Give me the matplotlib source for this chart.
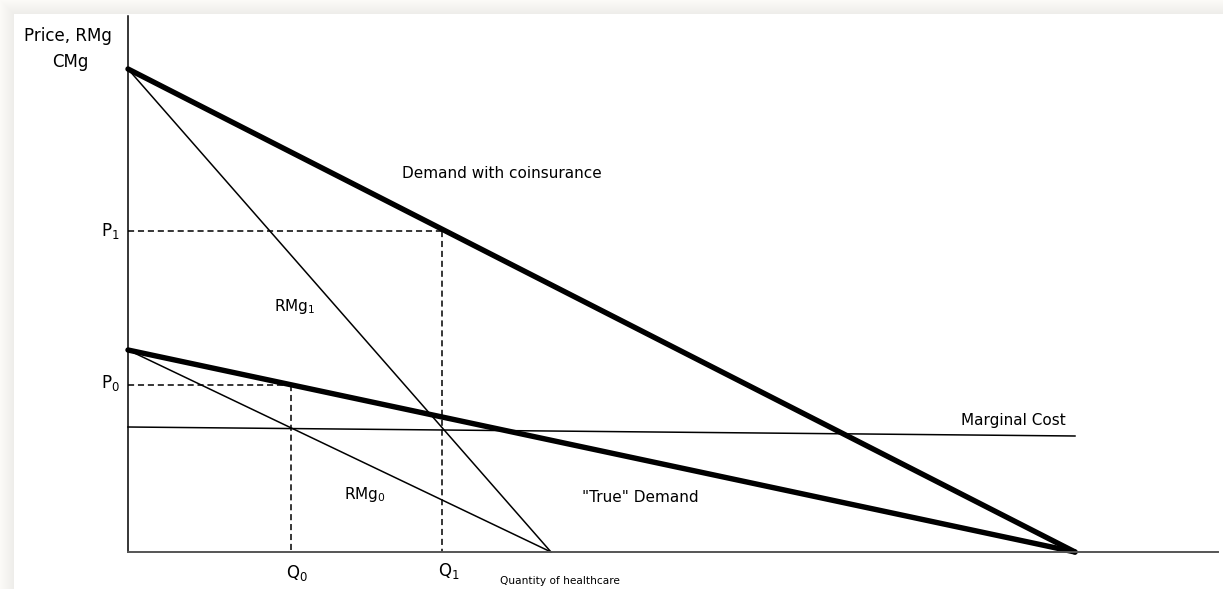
import matplotlib
matplotlib.use("Agg")
import matplotlib.pyplot as plt
from matplotlib.patches import Rectangle

# curves (quantity, price)
demand_coins_x = [0, 94.7]
demand_coins_y = [48.3, 0]
demand_true_x = [0, 94.7]
demand_true_y = [20.2, 0]
rmg1_x = [0, 42.3]
rmg1_y = [48.3, 0]
rmg0_x = [0, 42.3]
rmg0_y = [20.2, 0]
mc_x = [0, 94.7]
mc_y = [12.5, 11.6]

p1, q1 = 32.1, 31.4
p0, q0 = 16.7, 16.3

W, H = 1223, 589
fig = plt.figure(figsize=(W / 100, H / 100), dpi=100)
fig.patch.set_facecolor("white")
# soft frame shadow on top and left edges, darkest next to the page
for i in range(14):
    t = i / 13
    g = 0.985 - 0.05 * t
    col = (g, g - 0.004, g - 0.018)
    fig.patches.append(Rectangle((i / W, 0), 1 / W, 1 - i / H, transform=fig.transFigure,
                                 facecolor=col, edgecolor="none", zorder=0))
    fig.patches.append(Rectangle((i / W, 1 - (i + 1) / H), 1, 1 / H,
                                 transform=fig.transFigure,
                                 facecolor=col, edgecolor="none", zorder=0))

ax = fig.add_axes([128 / W, (H - 552) / H, (1218 - 128) / W, (552 - 16) / H])
ax.set_zorder(2)
ax.set_xlim(0, 109)
ax.set_ylim(0, 53.6)
ax.patch.set_alpha(0)
for s in ["top", "right"]:
    ax.spines[s].set_visible(False)
ax.spines["left"].set_linewidth(1.1)
ax.spines["bottom"].set_linewidth(1.4)
ax.spines["bottom"].set_color("#555555")
ax.set_xticks([])
ax.set_yticks([])

thick = dict(color="black", lw=3.9, solid_capstyle="round", clip_on=False)
thin = dict(color="black", lw=1.1, clip_on=False)
dash = dict(color="black", lw=1.1, ls=(0, (4, 2.5)), clip_on=False)

ax.plot(demand_coins_x, demand_coins_y, **thick)
ax.plot(demand_true_x, demand_true_y, **thick)
ax.plot(rmg1_x, rmg1_y, **thin)
ax.plot(rmg0_x, rmg0_y, **thin)
ax.plot(mc_x, mc_y, **thin)

ax.plot([0, q1], [p1, p1], **dash)
ax.plot([q1, q1], [p1, 0], **dash)
ax.plot([0, q0], [p0, p0], **dash)
ax.plot([q0, q0], [p0, 0], **dash)

fs = 11
ax.text(-6.0, 51.6, "Price, RMg", ha="center", va="center", fontsize=fs + 1)
ax.text(-5.8, 49.0, "CMg", ha="center", va="center", fontsize=fs + 1)
ax.text(-0.8, p1, r"$\mathregular{P_1}$", ha="right", va="center", fontsize=fs + 1)
ax.text(-0.8, p0 + 0.2, r"$\mathregular{P_0}$", ha="right", va="center", fontsize=fs + 1)
ax.text(q0 + 0.6, -2.1, r"$\mathregular{Q_0}$", ha="center", va="center", fontsize=fs + 1)
ax.text(q1 + 0.7, -1.9, r"$\mathregular{Q_1}$", ha="center", va="center", fontsize=fs + 1)
ax.text(43.2, -2.9, "Quantity of healthcare", ha="center", va="center", fontsize=7.6)
ax.text(37.4, 37.8, "Demand with coinsurance", ha="center", va="center", fontsize=fs)
ax.text(16.7, 24.6, r"$\mathregular{RMg_1}$", ha="center", va="center", fontsize=fs)
ax.text(23.7, 5.8, r"$\mathregular{RMg_0}$", ha="center", va="center", fontsize=fs)
ax.text(88.5, 13.2, "Marginal Cost", ha="center", va="center", fontsize=fs)
ax.text(51.2, 5.4, '"True" Demand', ha="center", va="center", fontsize=fs)

fig.savefig("out.png", dpi=100)
